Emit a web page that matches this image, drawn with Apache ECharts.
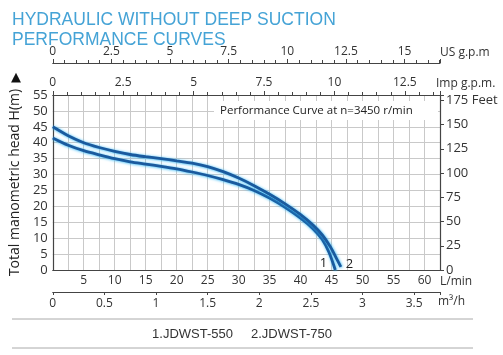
<!DOCTYPE html>
<html>
<head>
<meta charset="utf-8">
<script src="https://cdn.jsdelivr.net/npm/echarts@6/dist/echarts.min.js"></script>
<style>
html,body{margin:0;padding:0;background:#fff;}
#c{width:503px;height:355px;}
</style>
</head>
<body>
<div id="c"></div>
<script>
// ---- data (flow in L/min, head in m) ----
const flow1 = [0, 2.5, 5, 7.5, 10, 12.5, 15, 17.5, 20, 22.5, 25, 27.5, 30, 32.5, 35, 37.5, 40, 42, 43.5, 44.6, 45.6];
const head1 = [41.5, 39.2, 37.5, 36.2, 35.0, 34.0, 33.3, 32.6, 31.8, 30.8, 29.7, 28.4, 26.9, 25.0, 22.6, 19.7, 16.3, 13.0, 9.6, 5.5, 0.0];
const flow2 = [0, 2.5, 5, 7.5, 10, 12.5, 15, 17.5, 20, 22.5, 25, 27.5, 30, 32.5, 35, 37.5, 40, 42, 43.5, 44.8, 45.8, 46.5];
const head2 = [45.0, 42.2, 40.0, 38.5, 37.3, 36.3, 35.6, 35.0, 34.3, 33.6, 32.5, 30.9, 28.9, 26.5, 23.8, 20.8, 17.4, 14.1, 11.0, 7.3, 3.6, 1.0];
const seriesNames = ['1.JDWST-550', '2.JDWST-750'];
const curveTags = ['1', '2'];
const titleLines = ['HYDRAULIC WITHOUT DEEP SUCTION', 'PERFORMANCE CURVES'];
const curveNote = 'Performance Curve at n=3450 r/min';

// axis ranges / unit conversions
const flowMax = 62.5;           // L/min
const headMax = 55;             // m
const lminPerUSgpm = 3.7854;
const lminPerImpgpm = 4.5461;
const lminPerM3h = 16.6667;
const feetPerM = 3.2808;

const chart = echarts.init(document.getElementById('c'), null, {renderer: 'canvas'});

const axisColor = '#444';
const gridColor = '#c9c9c9';
const labelFont = {color: '#333', fontSize: 12, fontFamily: 'Open Sans'};

function mult(v, step) { return Math.abs(v / step - Math.round(v / step)) < 1e-6; }

const d1 = flow1.map((f, i) => [f, head1[i]]);
const d2 = flow2.map((f, i) => [f, head2[i]]);

function curveSeries(name, data, tag, labelPos, off) {
  return {
    name: name, type: 'line', xAxisIndex: 0, yAxisIndex: 0,
    data: data, smooth: 0.3, showSymbol: false, symbol: 'none', z: 5,
    lineStyle: {color: '#1a5a9e', width: 2.8, shadowColor: 'rgba(40,180,245,1)', shadowBlur: 3, shadowOffsetX: 0.5, shadowOffsetY: 0.5},
    markPoint: {
      symbol: 'circle', symbolSize: 0, silent: true,
      data: [{coord: data[data.length - 1]}],
      label: {show: true, formatter: tag, position: labelPos, offset: off, color: '#222', fontSize: 13, fontFamily: 'Open Sans'}
    }
  };
}

const option = {
  animation: false,
  title: {
    text: titleLines.join('\n'), left: 7, top: 5,
    textStyle: {color: '#45a3d6', fontSize: 17.5, fontWeight: 'normal', fontFamily: 'Liberation Sans', lineHeight: 20}
  },
  grid: {left: 49, right: 63, top: 95, bottom: 85, containLabel: false},
  xAxis: [
    { // L/min (bottom)
      type: 'value', position: 'bottom', min: 0, max: flowMax, interval: 2.5,
      axisLine: {show: true, onZero: false, lineStyle: {color: axisColor, width: 1.2}},
      axisTick: {show: false},
      splitLine: {show: true, lineStyle: {color: gridColor, width: 1}},
      axisLabel: Object.assign({margin: 5, formatter: v => (v > 0 && mult(v, 5) && v < flowMax) ? String(v) : ''}, labelFont)
    },
    { // Imp gpm (top, plot border)
      type: 'value', position: 'top', min: 0, max: flowMax / lminPerImpgpm, interval: 2.5,
      axisLine: {show: true, onZero: false, lineStyle: {color: axisColor, width: 1.2}},
      axisTick: {show: true, length: 4, lineStyle: {color: axisColor}},
      minorTick: {show: true, splitNumber: 5, length: 3, lineStyle: {color: axisColor}},
      splitLine: {show: false},
      axisLabel: Object.assign({margin: 6, formatter: v => mult(v, 2.5) ? String(v) : ''}, labelFont)
    },
    { // US gpm (top, offset)
      type: 'value', position: 'top', offset: 32, min: 0, max: flowMax / lminPerUSgpm, interval: 2.5,
      axisLine: {show: true, onZero: false, lineStyle: {color: axisColor, width: 1.2}},
      axisTick: {show: true, length: 4, lineStyle: {color: axisColor}},
      minorTick: {show: true, splitNumber: 5, length: 3, lineStyle: {color: axisColor}},
      splitLine: {show: false},
      axisLabel: Object.assign({margin: 5, formatter: v => mult(v, 2.5) ? String(v) : ''}, labelFont)
    },
    { // m3/h (bottom, offset)
      type: 'value', position: 'bottom', offset: 22, min: 0, max: flowMax / lminPerM3h, interval: 0.5,
      axisLine: {show: true, onZero: false, lineStyle: {color: axisColor, width: 1.2}},
      axisTick: {show: true, length: 3, lineStyle: {color: axisColor}},
      splitLine: {show: false},
      axisLabel: Object.assign({margin: 6, formatter: v => mult(v, 0.5) ? String(v) : ''}, labelFont)
    }
  ],
  yAxis: [
    { // m
      type: 'value', position: 'left', min: 0, max: headMax, interval: 5,
      name: 'Total manometric head H(m)', nameLocation: 'middle', nameGap: 26,
      nameTextStyle: {color: '#222', fontSize: 14, fontFamily: 'Open Sans'},
      axisLine: {show: true, onZero: false, lineStyle: {color: axisColor, width: 1.2}},
      axisTick: {show: false},
      splitLine: {show: true, lineStyle: {color: gridColor, width: 1}},
      axisLabel: Object.assign({margin: 5}, labelFont, {fontSize: 13})
    },
    { // feet
      type: 'value', position: 'right', min: 0, max: headMax * feetPerM, interval: 25,
      axisLine: {show: true, onZero: false, lineStyle: {color: axisColor, width: 1.2}},
      axisTick: {show: true, length: 4, lineStyle: {color: axisColor}},
      splitLine: {show: false},
      axisLabel: Object.assign({margin: 6, formatter: v => mult(v, 25) ? (v === 175 ? '175 Feet' : String(v)) : ''}, labelFont, {fontSize: 13})
    }
  ],
  graphic: [
    {type: 'rect', shape: {x: 214, y: 101, width: 224, height: 19}, style: {fill: '#fff'}, z: 3},
    {type: 'text', x: 220, y: 110.5, z: 4, style: {text: curveNote, fill: '#222', font: '11.5px "Open Sans"', textVerticalAlign: 'middle'}},
    {type: 'text', x: 11, y: 78, z: 4, style: {text: '▲', fill: '#111', font: '13px "DejaVu Sans"', textVerticalAlign: 'middle'}},
    {type: 'text', x: 440, y: 53, z: 4, style: {text: 'US g.p.m', fill: '#333', font: '12px "Open Sans"', textVerticalAlign: 'middle'}},
    {type: 'text', x: 436, y: 84, z: 4, style: {text: 'Imp g.p.m.', fill: '#333', font: '12px "Open Sans"', textVerticalAlign: 'middle'}},
    {type: 'text', x: 440, y: 282, z: 4, style: {text: 'L/min', fill: '#333', font: '12px "Open Sans"', textVerticalAlign: 'middle'}},
    {type: 'text', x: 438, y: 302, z: 4, style: {text: 'm³/h', fill: '#333', font: '12px "Open Sans"', textVerticalAlign: 'middle'}},
    {type: 'line', shape: {x1: 12, y1: 319, x2: 473, y2: 319}, style: {stroke: '#aaa', lineWidth: 1}},
    {type: 'line', shape: {x1: 12, y1: 348, x2: 473, y2: 348}, style: {stroke: '#aaa', lineWidth: 1}},
    {type: 'text', x: 242, y: 334, z: 4, style: {text: seriesNames.join('     '), fill: '#333', font: '13px "Liberation Sans"', textAlign: 'center', textVerticalAlign: 'middle'}}
  ],
  series: [
    curveSeries(seriesNames[0], d1, curveTags[0], 'left', [-3, -7]),
    curveSeries(seriesNames[1], d2, curveTags[1], 'right', [0, -3])
  ]
};
chart.setOption(option);
</script>
</body>
</html>
